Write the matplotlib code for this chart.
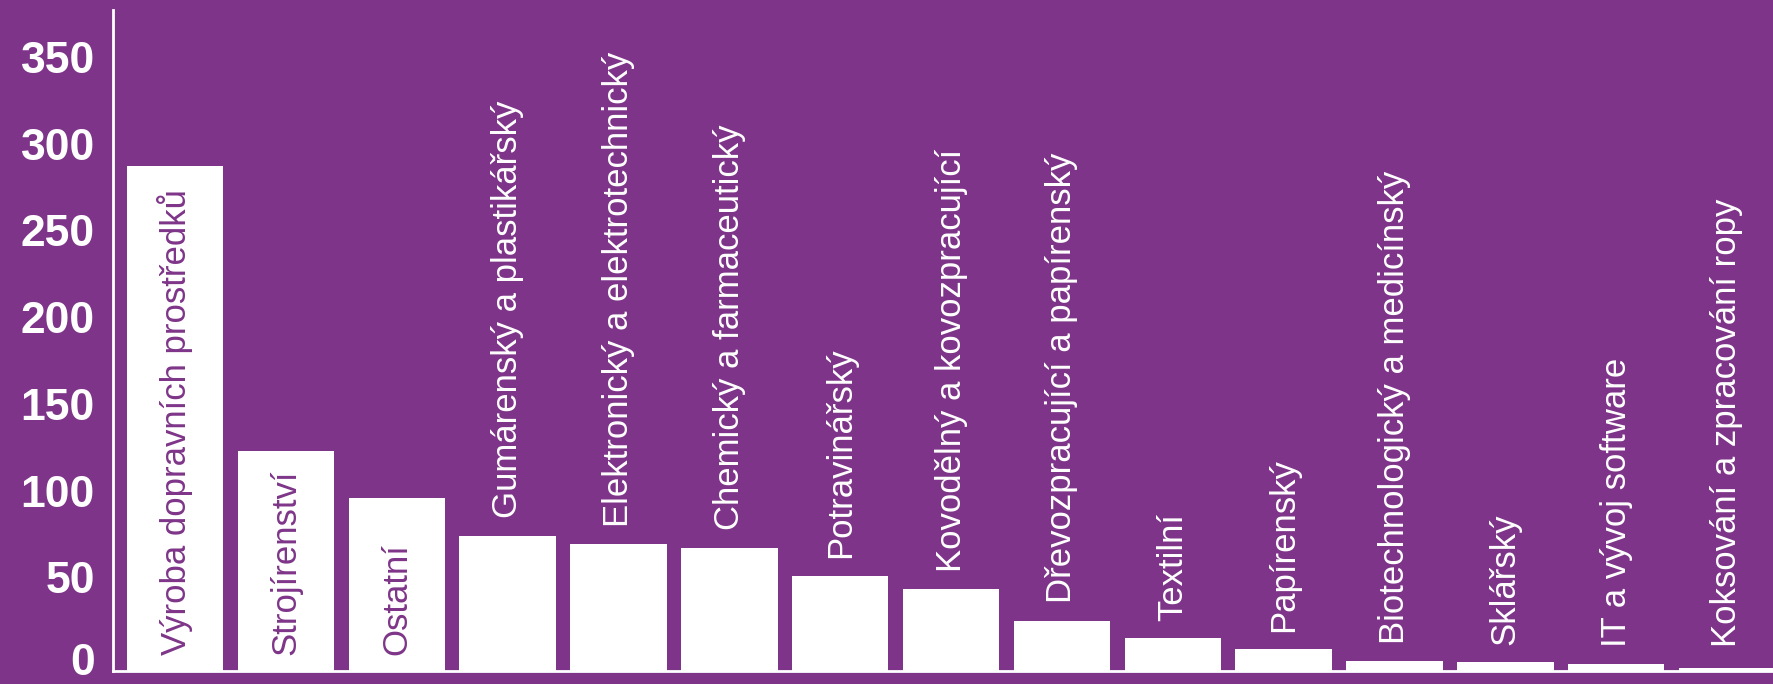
import matplotlib
matplotlib.use('Agg')
import matplotlib.pyplot as plt
import matplotlib.transforms as mtransforms
import numpy as np

categories = ['Výroba dopravních prostředků', 'Strojírenství', 'Ostatní',
              'Gumárenský a plastikářský', 'Elektronický a elektrotechnický',
              'Chemický a farmaceutický', 'Potravinářský', 'Kovodělný a kovozpracující',
              'Dřevozpracující a papírenský', 'Textilní', 'Papírenský',
              'Biotechnologický a medicínský', 'Sklářský', 'IT a vývoj software',
              'Koksování a zpracování ropy']
values = [291, 127, 100, 78, 73, 71, 55, 47, 29, 19, 12.5, 5.5, 5, 4, 2]
yticks = [0, 50, 100, 150, 200, 250, 300, 350]

bg = '#7e3589'
plt.rcParams['font.family'] = ['Liberation Sans', 'DejaVu Sans']

fig = plt.figure(figsize=(17.73, 6.84), dpi=100, facecolor=bg)
ax = fig.add_axes([113/1773, 13/684, 1 - 113/1773, 661/684])
ax.set_facecolor(bg)

x = np.arange(len(categories))
ax.bar(x, values, width=0.87, color='white', zorder=2)

for i, (c, v) in enumerate(zip(categories, values)):
    if v > 95:
        ax.text(i, 9, c, rotation=90, ha='center', va='bottom',
                fontsize=25, color=bg, zorder=3)
    else:
        ax.text(i, max(v + 10, 14), c, rotation=90, ha='center', va='bottom',
                fontsize=25, color='white', zorder=3)

ax.set_xlim(-0.56, 14.415)
ax.set_ylim(0, 381)
ax.set_xticks([])
ax.set_yticks(yticks)
ax.set_yticklabels([str(t) for t in yticks], fontsize=32, fontweight='bold', color='white')
ax.tick_params(axis='y', length=0, pad=13)
# nudge tick labels up a little (the bottom one a bit more so it stays inside)
for t, lab in zip(yticks, ax.get_yticklabels()):
    dy = 12 if t == 0 else 7
    shift = mtransforms.ScaledTranslation(0, dy/100, fig.dpi_scale_trans)
    lab.set_transform(lab.get_transform() + shift)
for s in ['top', 'right']:
    ax.spines[s].set_visible(False)
for s in ['left', 'bottom']:
    ax.spines[s].set_color('white')
    ax.spines[s].set_linewidth(2)

fig.savefig('out.png', dpi=100, facecolor=bg)
